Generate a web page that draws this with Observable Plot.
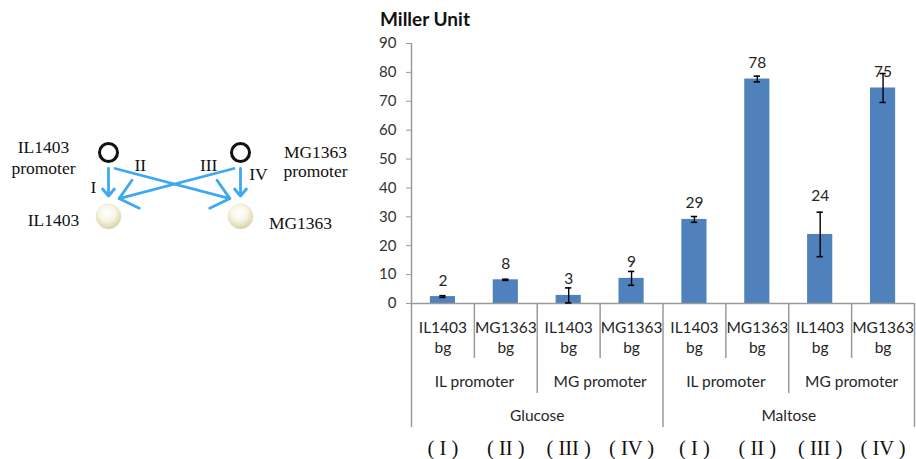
<!DOCTYPE html>
<html>
<head>
<meta charset="utf-8">
<script src="https://cdn.jsdelivr.net/npm/d3@7"></script>
<script src="https://cdn.jsdelivr.net/npm/@observablehq/plot@0.6"></script>
<style>
  html, body { margin: 0; padding: 0; background: #fff; }
  body { width: 916px; height: 459px; position: relative; overflow: hidden; }
  #diagram { position: absolute; left: 0; top: 0; }
  #chart { position: absolute; left: 370px; top: 30px; }
  #title { position: absolute; left: 380px; top: 9px; font-family: Lato, sans-serif; font-weight: bold; font-size: 19px; line-height: 20px; color: #111; }
  #chart [aria-label^="y-axis"] text { fill: #333; }
</style>
</head>
<body>
<svg width="0" height="0" style="position:absolute">
  <defs>
    <radialGradient id="pearl" cx="45%" cy="35%" r="70%">
      <stop offset="0" stop-color="#ffffff"/>
      <stop offset="0.45" stop-color="#f8f6e6"/>
      <stop offset="0.8" stop-color="#e2dcb6"/>
      <stop offset="1" stop-color="#cbc393"/>
    </radialGradient>
  </defs>
</svg>
<div id="diagram"></div>
<div id="title">Miller Unit</div>
<div id="chart"></div>
<script>
// ---------- data ----------
const strains   = ["IL1403", "MG1363", "IL1403", "MG1363", "IL1403", "MG1363", "IL1403", "MG1363"];
const bgLabel   = "bg";
const promoters = ["IL promoter", "MG promoter", "IL promoter", "MG promoter"];
const sugars    = ["Glucose", "Maltose"];
const romans    = ["( I )", "( II )", "( III )", "( IV )", "( I )", "( II )", "( III )", "( IV )"];
const means     = [2.4, 8.2, 2.8, 8.7, 29.1, 77.7, 23.9, 74.6];
const errs      = [0.3, 0.2, 2.6, 2.4, 1.0, 1.0, 7.7, 5.0];
const yTicks    = [0, 10, 20, 30, 40, 50, 60, 70, 80, 90];

// diagram data
const promoterNames = ["IL1403\npromoter", "MG1363\npromoter"];
const strainNames   = ["IL1403", "MG1363"];
const links = [
  {from: 0, to: 0, label: "I"},
  {from: 0, to: 1, label: "II"},
  {from: 1, to: 0, label: "III"},
  {from: 1, to: 1, label: "IV"}
];

// ---------- chart ----------
const W = 546, H = 429, MT = 13, MB = 156;
const pxPerUnit = (H - MT - MB) / 90;
const below = px => -px / pxPerUnit;          // a depth below the axis, in y units

const bars = means.map((m, i) => ({i, m, e: errs[i], strain: strains[i], roman: romans[i]}));
const promoterRows = promoters.map((p, j) => ({j, p}));
const sugarRows = sugars.map((s, k) => ({k, s}));
const seps = d3.range(0, strains.length + 1).map(b => ({b, level: b % 4 === 0 ? 3 : b % 2 === 0 ? 2 : 1}));
const sepDepth = {1: 55, 2: 90, 3: 124};
const grey = "#9a9a9a";
const ink = "#262626";

const chart = Plot.plot({
  width: W, height: H,
  marginTop: MT, marginBottom: MB, marginLeft: 41, marginRight: 2,
  x: {domain: [0, strains.length], axis: null},
  y: {domain: [0, 90], ticks: yTicks, tickSize: 5, tickPadding: 10, line: false, label: null},
  style: {fontFamily: "Lato, sans-serif", fontSize: "15px", color: grey, background: "transparent", overflow: "visible"},
  marks: [
    Plot.rectY(bars, {x1: d => d.i + 0.3, x2: d => d.i + 0.7, y1: 0, y2: "m", fill: "#4f81bd"}),
    Plot.ruleY([0], {stroke: grey, strokeWidth: 1.5}),
    Plot.ruleX(seps, {x: "b", y1: d => d.b === 0 ? 90 : 0, y2: d => below(sepDepth[d.level]), stroke: grey, strokeWidth: 1.5}),
    // error bars
    Plot.ruleX(bars, {x: d => d.i + 0.5, y1: d => d.m - d.e, y2: d => d.m + d.e, stroke: "#000", strokeWidth: 1.4}),
    Plot.ruleY(bars, {y: d => d.m + d.e, x1: d => d.i + 0.45, x2: d => d.i + 0.55, stroke: "#000", strokeWidth: 1.6}),
    Plot.ruleY(bars, {y: d => d.m - d.e, x1: d => d.i + 0.45, x2: d => d.i + 0.55, stroke: "#000", strokeWidth: 1.6}),
    // value labels
    Plot.text(bars, {x: d => d.i + 0.5, y: d => d.e > 6 ? d.m + d.e : d.m, text: d => String(Math.round(d.m)),
      dy: -11, lineAnchor: "bottom", fill: ink, fontSize: 15.5}),
    // category tiers
    Plot.text(bars, {x: d => d.i + 0.5, y: 0, text: "strain", dy: 25, lineAnchor: "middle", fill: ink, fontSize: 15.5}),
    Plot.text(bars, {x: d => d.i + 0.5, y: 0, text: () => bgLabel, dy: 45, lineAnchor: "middle", fill: ink, fontSize: 15.5}),
    Plot.text(promoterRows, {x: d => 2 * d.j + 1, y: 0, text: "p", dy: 79, lineAnchor: "middle", fill: ink, fontSize: 15.5}),
    Plot.text(sugarRows, {x: d => 4 * d.k + 2, y: 0, text: "s", dy: 113, lineAnchor: "middle", fill: ink, fontSize: 15.5}),
    Plot.text(bars, {x: d => d.i + 0.5, y: 0, text: "roman", dy: 145, lineAnchor: "middle", fill: "#111",
      fontFamily: "Liberation Serif, serif", fontSize: 20.5})
  ]
});
document.getElementById("chart").appendChild(chart);

// ---------- diagram ----------
const promoterData = promoterNames.map((n, i) => ({i, n}));
const strainData = strainNames.map((n, i) => ({i, n}));
const arrows = links.map(l => {
  const s = Math.sign(l.to - l.from);
  return s === 0
    ? {...l, x1: l.from, y1: 0.75, x2: l.to, y2: 0.32}
    : {...l, x1: l.from + s * 0.05, y1: 0.75, x2: l.to - s * 0.08, y2: 0.28};
});
const labelLayout = [
  {t: 0.7, dx: -15, dy: 0},
  {t: 0.22, dx: 0, dy: -10},
  {t: 0.22, dx: 0, dy: -10},
  {t: 0.2, dx: 18, dy: 0}
];
const blue = "#3ea9ef";
const serif = "Liberation Serif, 'Times New Roman', serif";

const diagram = Plot.plot({
  width: 370, height: 459,
  marginLeft: 108, marginRight: 130, marginTop: 152, marginBottom: 243,
  x: {domain: [0, 1], axis: null},
  y: {domain: [0, 1], axis: null},
  style: {fontFamily: serif, fontSize: "17px", color: "#111", background: "transparent", overflow: "visible"},
  marks: [
    Plot.arrow(arrows, {x1: "x1", y1: "y1", x2: "x2", y2: "y2", stroke: blue, strokeWidth: 2.8, headLength: 12, headAngle: 80}),
    ...labelLayout.map((L, k) => Plot.text([arrows[k]], {
      x: d => d.x1 + L.t * (d.x2 - d.x1), y: d => d.y1 + L.t * (d.y2 - d.y1),
      text: "label", dx: L.dx, dy: L.dy, fill: "#111", fontSize: 17.5
    })),
    Plot.dot(promoterData, {x: "i", y: 1, r: 9, stroke: "#111", strokeWidth: 3, fill: "white"}),
    Plot.dot(strainData, {x: "i", y: 0, r: 12.5, fill: "url(#pearl)", stroke: "#e6e2c6", strokeWidth: 0.6}),
    Plot.text(promoterData.filter(d => d.i === 0), {x: "i", y: 1, text: "n", dx: -65, dy: 4, lineHeight: 1.25, fill: "#111", fontSize: 17.5}),
    Plot.text(promoterData.filter(d => d.i === 1), {x: "i", y: 1, text: "n", dx: 75, dy: 9, lineHeight: 1.1, fill: "#111", fontSize: 17.5}),
    Plot.text(strainData.filter(d => d.i === 0), {x: "i", y: 0, text: "n", dx: -55, dy: 4, fill: "#111", fontSize: 17.5}),
    Plot.text(strainData.filter(d => d.i === 1), {x: "i", y: 0, text: "n", dx: 60, dy: 7, fill: "#111", fontSize: 17.5})
  ]
});
document.getElementById("diagram").appendChild(diagram);
</script>
</body>
</html>
